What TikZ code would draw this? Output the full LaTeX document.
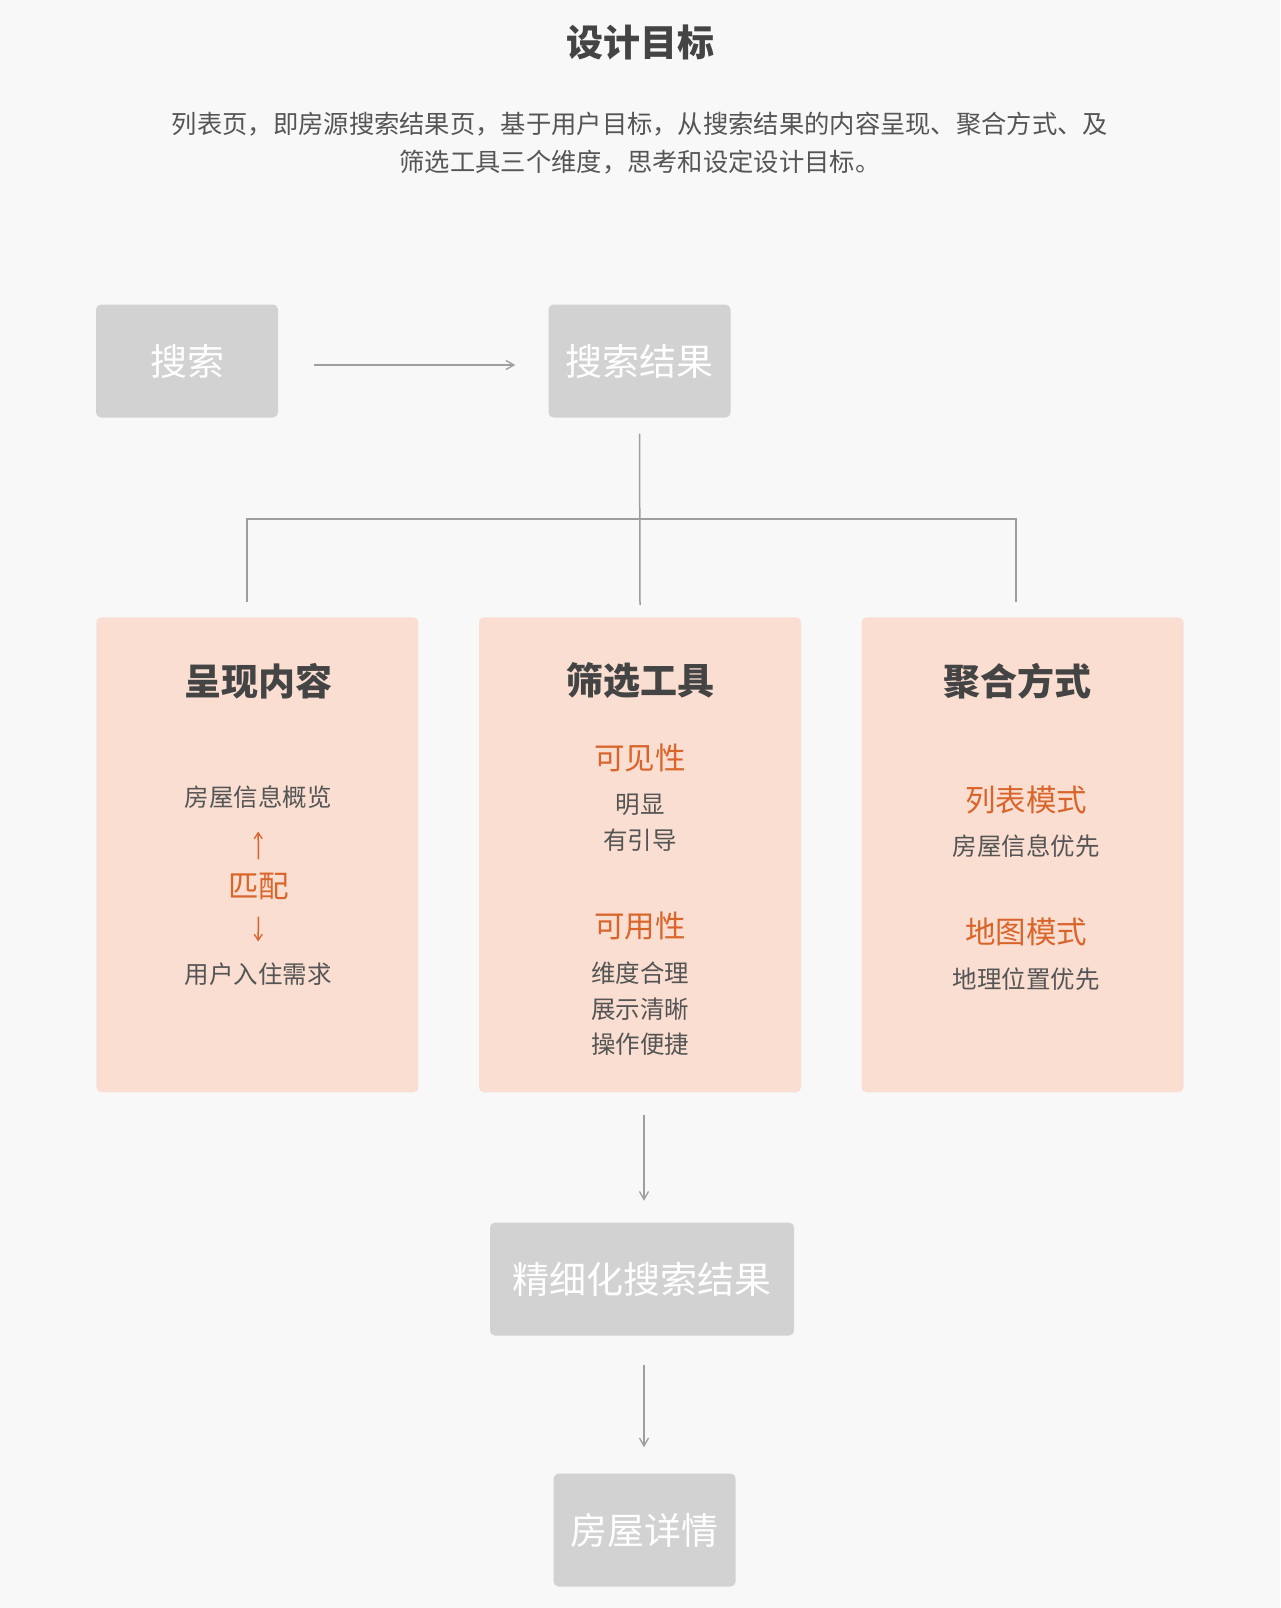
\documentclass[tikz,border=0pt]{standalone}
\usepackage{fontspec}
\setmainfont{Noto Sans CJK SC}
\usetikzlibrary{arrows.meta}
\definecolor{bgc}{HTML}{F8F8F8}
\definecolor{boxgray}{HTML}{D2D2D2}
\definecolor{cardfill}{HTML}{F9DED1}
\definecolor{orangetxt}{HTML}{D9652B}
\definecolor{darktxt}{HTML}{444444}
\definecolor{bodytxt}{HTML}{555555}
\definecolor{linegray}{HTML}{9E9E9E}
\tikzset{
  graybox/.style={fill=boxgray, rounded corners=5pt, text=white, inner sep=0pt,
    minimum height=113pt, font=\fontsize{37}{44}\selectfont},
  card/.style={fill=cardfill, rounded corners=5pt, inner sep=0pt,
    minimum width=322pt, minimum height=475pt},
  cardtitle/.style={text=darktxt, inner sep=0pt, font=\fontsize{37}{44}\selectfont\bfseries},
  bodytext/.style={text=bodytxt, inner sep=0pt, font=\fontsize{24.5}{30}\selectfont},
  introtext/.style={text=bodytxt, inner sep=0pt, font=\fontsize{25.3}{30}\selectfont},
  orangehead/.style={text=orangetxt, inner sep=0pt, font=\fontsize{30.5}{36}\selectfont},
  conn/.style={draw=linegray, line width=1.5pt},
  arr/.style={conn, -{Straight Barb[length=8pt,width=9pt,line width=1.3pt]}},
  oarr/.style={draw=orangetxt, line width=1.5pt, -{Straight Barb[length=6pt,width=8pt,line width=1.3pt]}},
}
\begin{document}
\begin{tikzpicture}[x=1pt,y=-1pt]
\fill[bgc] (0,0) rectangle (1280,1608);
\useasboundingbox (0,0) rectangle (1280,1608);

% title and intro
\node[text=darktxt, inner sep=0pt, font=\fontsize{37}{44}\selectfont\bfseries] (title) at (640,43) {设计目标};
\node[introtext] (intro1) at (640,124) {列表页，即房源搜索结果页，基于用户目标，从搜索结果的内容呈现、聚合方式、及};
\node[introtext] (intro2) at (640,162) {筛选工具三个维度，思考和设定设计目标。};

% top boxes
\node[graybox, minimum width=182pt] (search) at (187,361) {搜索};
\node[graybox, minimum width=182pt] (res) at (639.5,361) {搜索结果};
\draw[arr, shorten <=36pt, shorten >=33pt] ([yshift=-4pt]search.east) -- ([yshift=-4pt]res.west);

% tree
\coordinate (jl) at (247,519);
\coordinate (jr) at (1016,519);
\coordinate (tl) at (247,602);
\coordinate (tr) at (1016,602);
\coordinate (tm) at (640,605);
\draw[conn, shorten <=16pt] (res.south) -- (tm);
\draw[conn] (tl) -- (jl) -- (jr) -- (tr);

% cards
\node[card] (cardL) at (257.4,854.8) {};
\node[card] (cardM) at (640,854.8) {};
\node[card] (cardR) at (1022.5,854.8) {};

% left card
\node[cardtitle] (tL) at (258,681) {呈现内容};
\node[bodytext] (ov) at (258,797) {房屋信息概览};
\node[orangehead] (match) at (258.5,886) {匹配};
\node[bodytext] (need) at (258,974) {用户入住需求};
\draw[oarr, shorten <=13pt, shorten >=23pt] (match.north) -- (ov.south);
\draw[oarr, shorten <=17pt, shorten >=21pt] (match.south) -- (need.north);

% middle card
\node[cardtitle] (tM) at (640,681) {筛选工具};
\node[orangehead] (vis) at (640,758) {可见性};
\node[bodytext] (m1) at (640,805) {明显};
\node[bodytext] (m2) at (640,840) {有引导};
\node[orangehead] (use) at (640,926) {可用性};
\node[bodytext] (m3) at (640,973) {维度合理};
\node[bodytext] (m4) at (640,1009) {展示清晰};
\node[bodytext] (m5) at (640,1044) {操作便捷};

% right card
\node[cardtitle] (tR) at (1017,681) {聚合方式};
\node[orangehead] (listm) at (1026,800) {列表模式};
\node[bodytext] (r1) at (1026,846) {房屋信息优先};
\node[orangehead] (mapm) at (1026,932) {地图模式};
\node[bodytext] (r2) at (1026,979) {地理位置优先};

% bottom flow
\node[graybox, minimum width=304pt] (fine) at (642,1279) {精细化搜索结果};
\node[graybox, minimum width=182pt] (detail) at (644.6,1530) {房屋详情};
\draw[arr, shorten <=22pt, shorten >=21.5pt] ([xshift=4pt]cardM.south) -- ([xshift=2pt]fine.north);
\draw[arr, shorten <=29pt, shorten >=26pt] ([xshift=2pt]fine.south) -- ([xshift=-0.6pt]detail.north);
\end{tikzpicture}
\end{document}
